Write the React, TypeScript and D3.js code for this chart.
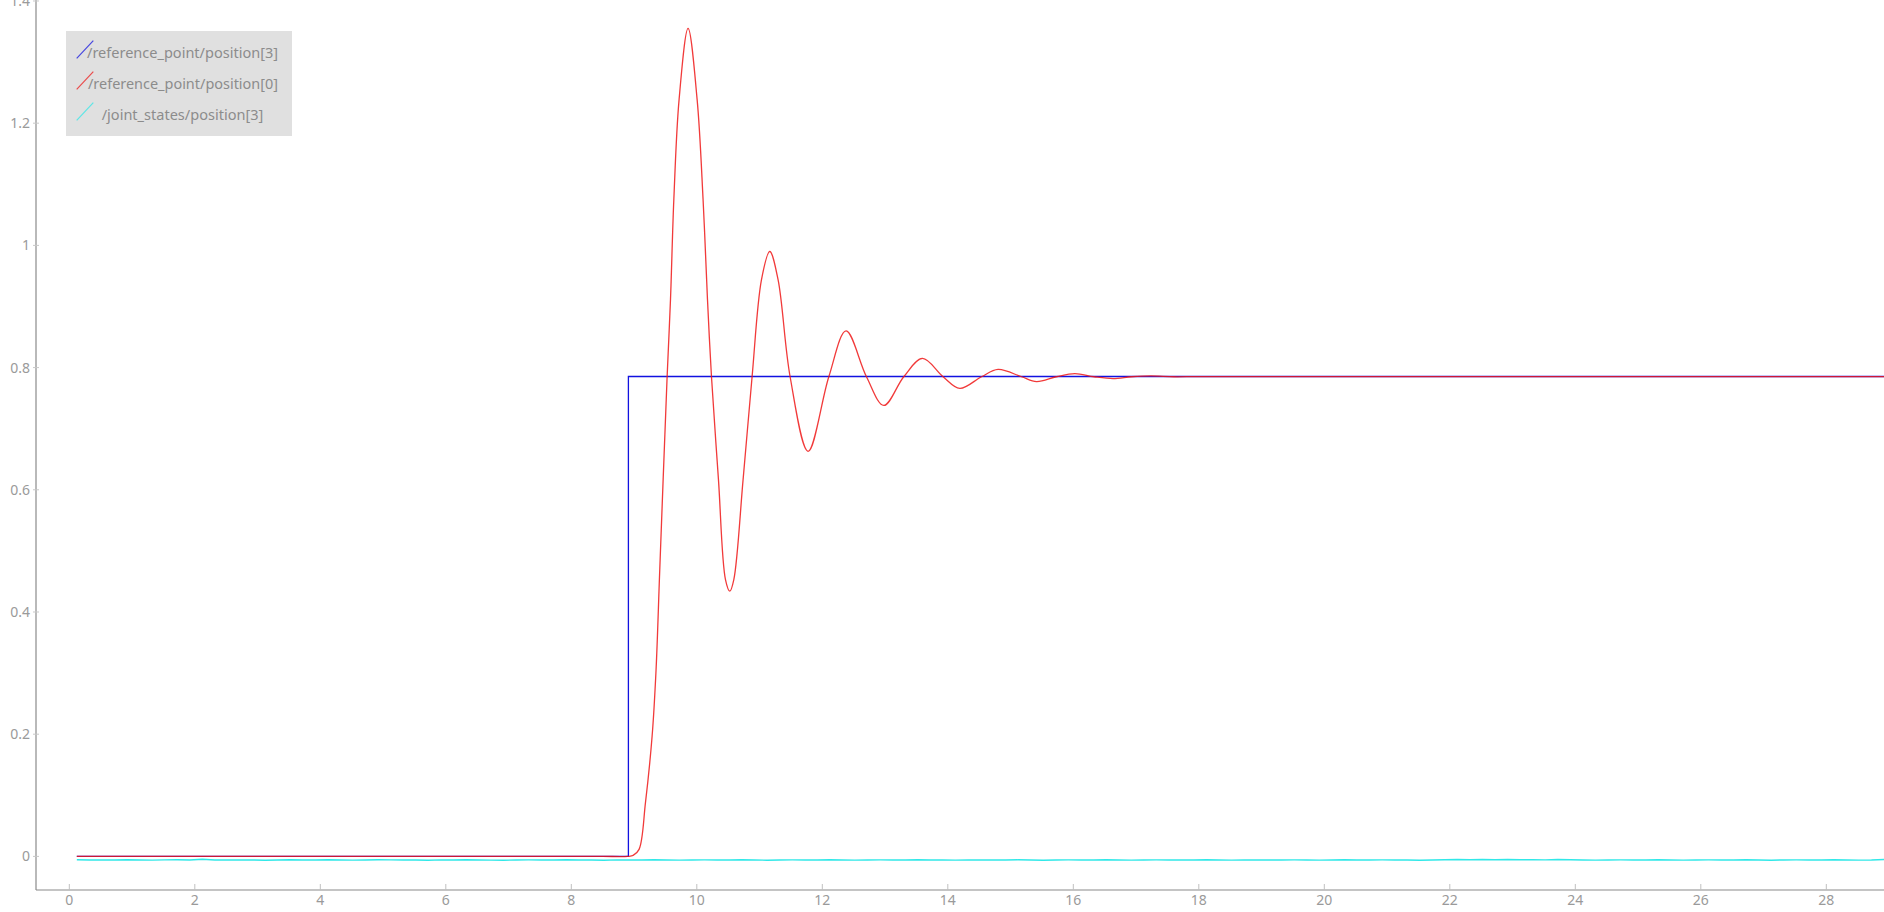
import React from "react";
import * as d3 from "d3";

const W = 1884;
const H = 912;

// tick labels
const xTicks = [0, 2, 4, 6, 8, 10, 12, 14, 16, 18, 20, 22, 24, 26, 28];
const yTicks = [0, 0.2, 0.4, 0.6, 0.8, 1, 1.2, 1.4];
const yTickLabels = ["0", "0.2", "0.4", "0.6", "0.8", "1", "1.2", "1.4"];

// legend
const seriesNames = [
  "/reference_point/position[3]",
  "/reference_point/position[0]",
  " /joint_states/position[3]",
];
const seriesColors = ["#1212e0", "#ee1818", "#30e8e8"];

// series: /reference_point/position[3] (step)
const blueT = [0.12, 8.91, 8.91, 29.0];
const blueV = [0, 0, 0.7854, 0.7854];

// series: /reference_point/position[0] (damped response)
const redT = [
  0.12, 2.0, 4.0, 6.0, 8.0, 8.5, 8.9, 8.985, 9.08, 9.182, 9.288, 9.351, 9.41,
  9.527, 9.581, 9.634, 9.718, 9.861, 10.005, 10.1, 10.17, 10.234, 10.345,
  10.457, 10.526, 10.59, 10.738, 10.881, 11.031, 11.163, 11.295, 11.487,
  11.774, 12.104, 12.379, 12.704, 12.98, 13.298, 13.597, 13.925, 14.191,
  14.537, 14.801, 15.175, 15.414, 15.732, 16.024, 16.33, 16.634, 16.93,
  17.235, 17.6, 18.0, 20.0, 23.0, 26.0, 29.0,
];
const redV = [
  0, 0, 0, 0, 0, 0, 0, 0.0016, 0.0115, 0.088, 0.197, 0.306, 0.47,
  0.785, 0.912, 1.075, 1.239, 1.355, 1.239, 1.075, 0.912, 0.785, 0.617,
  0.453, 0.434, 0.453, 0.617, 0.785, 0.944, 0.99, 0.944, 0.785,
  0.663, 0.785, 0.86, 0.785, 0.738, 0.785, 0.815, 0.785, 0.766,
  0.785, 0.797, 0.785, 0.777, 0.785, 0.79, 0.785, 0.782, 0.785,
  0.7864, 0.785, 0.7853, 0.7853, 0.7853, 0.7853, 0.7853,
];

// series: /joint_states/position[3] (sampled every 0.2 s from t = 0.12)
const cyanStart = 0.12;
const cyanStep = 0.2;
const cyanV = [
  -0.0056, -0.0059, -0.0057, -0.006, -0.0055, -0.0058, -0.0061, -0.0057, -0.0054, -0.0058,
  -0.0046, -0.0059, -0.006, -0.0057, -0.0059, -0.0062, -0.0058, -0.0056, -0.006, -0.0059,
  -0.0055, -0.0058, -0.0061, -0.0059, -0.0056, -0.0057, -0.006, -0.0058, -0.0062, -0.0057,
  -0.0059, -0.0056, -0.0058, -0.0061, -0.0063, -0.0059, -0.0057, -0.0058, -0.006, -0.0056,
  -0.0059, -0.0058, -0.0062, -0.0057, -0.006, -0.0058, -0.0055, -0.0059, -0.0061, -0.0058,
  -0.0057, -0.006, -0.0058, -0.0056, -0.0059, -0.0062, -0.0058, -0.0057, -0.006, -0.0059,
  -0.0056, -0.0058, -0.0061, -0.0059, -0.0057, -0.0058, -0.006, -0.0056, -0.0059, -0.0058,
  -0.0061, -0.0057, -0.0059, -0.006, -0.0058, -0.0056, -0.0059, -0.0062, -0.0058, -0.0057,
  -0.006, -0.0059, -0.0056, -0.0058, -0.0061, -0.0058, -0.0057, -0.0059, -0.006, -0.0058,
  -0.0056, -0.0059, -0.0061, -0.0057, -0.0058, -0.006, -0.0059, -0.0057, -0.0058, -0.0061,
  -0.0058, -0.0056, -0.0059, -0.006, -0.0057, -0.0058, -0.0059, -0.0062, -0.0058, -0.0056,
  -0.005, -0.0054, -0.0052, -0.0056, -0.0051, -0.0055, -0.0053, -0.0057, -0.0052, -0.0056,
  -0.0059, -0.0061, -0.0058, -0.0057, -0.006, -0.0059, -0.0056, -0.0058, -0.0061, -0.0059,
  -0.0057, -0.0058, -0.006, -0.0056, -0.0059, -0.0062, -0.0058, -0.0057, -0.006, -0.0059,
  -0.0056, -0.0058, -0.0061, -0.0059, -0.0052, -0.0057,
];

const AX_LEFT = 36;
const AX_BOTTOM = 890;

export default function App() {
  const x = d3
    .scaleLinear()
    .domain([(AX_LEFT - 69.3) / 62.75, (W - 69.3) / 62.75])
    .range([AX_LEFT, W]);
  const y = d3.scaleLinear().domain([-0.055, 1.4016]).range([AX_BOTTOM, 0]);

  type P = [number, number];
  const blue: P[] = blueT.map((t, i) => [t, blueV[i]]);
  const red: P[] = redT.map((t, i) => [t, redV[i]]);
  const cyan: P[] = cyanV.map((v, i) => [cyanStart + i * cyanStep, v]);

  const linearLine = d3
    .line<P>()
    .x((d) => x(d[0]))
    .y((d) => y(d[1]));
  const smoothLine = d3
    .line<P>()
    .x((d) => x(d[0]))
    .y((d) => y(d[1]))
    .curve(d3.curveCatmullRom.alpha(0.5));

  const font = "'Noto Sans', 'DejaVu Sans', sans-serif";
  const axisColor = "#8a8a8a";
  const labelColor = "#9a9a9a";

  const legendTexts = [
    { x0: 87, x1: 278, yb: 58 },
    { x0: 88, x1: 278, yb: 89 },
    { x0: 101.7, x1: 263.3, yb: 120 },
  ];

  return (
    <svg
      width={W}
      height={H}
      style={{ position: "absolute", left: 0, top: 0, background: "#fff" }}
    >
      <defs>
        <clipPath id="plot">
          <rect x={AX_LEFT} y={0} width={W - AX_LEFT} height={AX_BOTTOM} />
        </clipPath>
      </defs>
      <rect x={0} y={0} width={W} height={H} fill="#ffffff" />

      {/* series */}
      <g clipPath="url(#plot)" fill="none">
        <path d={linearLine(cyan) || ""} stroke={seriesColors[2]} strokeWidth={1.4} />
        <path d={linearLine(blue) || ""} stroke={seriesColors[0]} strokeWidth={1.3} />
        <path
          d={smoothLine(red) || ""}
          stroke={seriesColors[1]}
          strokeWidth={1.3}
          strokeOpacity={0.85}
        />
      </g>

      {/* y axis */}
      <line x1={AX_LEFT} x2={AX_LEFT} y1={0} y2={AX_BOTTOM} stroke={axisColor} strokeWidth={1.2} />
      {yTicks.map((v, i) => (
        <g key={"y" + i}>
          <line x1={AX_LEFT - 3} x2={AX_LEFT + 3} y1={y(v)} y2={y(v)} stroke="#c8c8c8" strokeWidth={1} />
          <text
            x={30}
            y={y(v) + 5}
            textAnchor="end"
            fontFamily={font}
            fontSize={14}
            fill={labelColor}
          >
            {yTickLabels[i]}
          </text>
        </g>
      ))}

      {/* x axis */}
      <line x1={AX_LEFT} x2={W} y1={AX_BOTTOM} y2={AX_BOTTOM} stroke={axisColor} strokeWidth={1.2} />
      {xTicks.map((t) => (
        <g key={"x" + t}>
          <line x1={x(t)} x2={x(t)} y1={AX_BOTTOM - 6} y2={AX_BOTTOM} stroke="#c0c0c0" strokeWidth={1} />
          <text
            x={x(t)}
            y={905}
            textAnchor="middle"
            fontFamily={font}
            fontSize={14}
            fill={labelColor}
          >
            {String(t)}
          </text>
        </g>
      ))}

      {/* legend */}
      <rect x={66} y={31} width={226} height={105} fill="#e0e0e0" />
      {seriesNames.map((name, i) => (
        <g key={"l" + i}>
          <line
            x1={76.7}
            y1={58.3 + i * 31}
            x2={93.3}
            y2={40.7 + i * 31}
            stroke={seriesColors[i]}
            strokeWidth={1.2}
            strokeOpacity={0.75}
          />
          <text
            x={legendTexts[i].x0}
            y={legendTexts[i].yb}
            fontFamily={font}
            fontSize={14}
            fill="#8c8c8c"
            textLength={legendTexts[i].x1 - legendTexts[i].x0}
            lengthAdjust="spacingAndGlyphs"
          >
            {name.trim()}
          </text>
        </g>
      ))}
    </svg>
  );
}
